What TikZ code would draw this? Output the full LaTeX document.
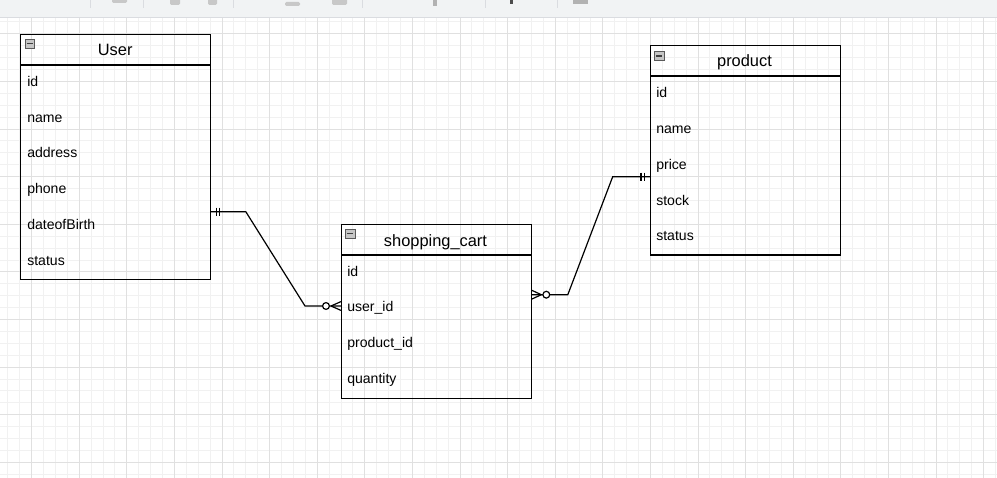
\documentclass[tikz,border=0pt]{standalone}
\usepackage{fontspec}
\setmainfont{Liberation Sans}
\usepackage{tikz}
\usetikzlibrary{calc}
\definecolor{gridminor}{RGB}{241,241,241}
\definecolor{gridmajor}{RGB}{224,224,224}
\definecolor{barfill}{RGB}{241,243,244}
\definecolor{barline}{RGB}{218,220,224}
\definecolor{iconfill}{RGB}{200,200,200}

\begin{document}
\begin{tikzpicture}[x=0.75pt, y=-0.75pt,
  table/.style={draw, line width=0.9pt, anchor=north west, minimum width=142.2pt, inner sep=0pt},
  title/.style={anchor=base, inner sep=0pt, font=\fontsize{12.3}{15}\selectfont},
  field/.style={anchor=base west, inner sep=0pt, font=\fontsize{10.55}{13}\selectfont},
  collapse/.style={draw=gray!70!black, fill=gray!45, minimum size=6.9pt, inner sep=0pt, line width=0.5pt},
  rel/.style={line width=0.9pt},
  minorgrid/.style={draw=gridminor, line width=0.6pt},
  majorgrid/.style={draw=gridmajor, line width=0.6pt},
  tool/.style={fill=iconfill, rounded corners=1pt}
]
\useasboundingbox (0,0) rectangle (997,478);
\fill[white] (0,0) rectangle (997,478);

% grid
\begin{scope}
\clip (0,17) rectangle (997,478);
\foreach \k in {-2,...,81} \draw[minorgrid] (31.5+11.9*\k,17) -- (31.5+11.9*\k,478);
\foreach \k in {-2,...,38} \draw[minorgrid] (0,33.8+11.9*\k) -- (997,33.8+11.9*\k);
\foreach \k in {-4,0,...,80} \draw[majorgrid] (31.5+11.9*\k,17) -- (31.5+11.9*\k,478);
\foreach \k in {-4,0,...,36} \draw[majorgrid] (0,33.8+11.9*\k) -- (997,33.8+11.9*\k);
\end{scope}

% toolbar
\fill[barfill] (0,0) rectangle (997,17);
\draw[barline, line width=0.6pt] (0,17) -- (997,17);
\foreach \sx in {90,143,233,362,485,557} \draw[barline, line width=0.6pt] (\sx,0) -- (\sx,8);
\fill[tool] (112,-2) rectangle (127,3);
\fill[tool] (170,-2) rectangle (180,5);
\fill[tool] (208,-2) rectangle (217,5);
\fill[tool] (285,2) rectangle (300,6);
\fill[tool] (332,-2) rectangle (347,5);
\fill[gray!60] (433,0) rectangle (437,6);
\fill[gray!60!black] (510,0) rectangle (513,4);
\fill[gray!60] (573,0) rectangle (588,4);

% tables
\node[table, minimum height=183.75pt] (user) at (20,34) {};
\draw[line width=0.9pt] (user.west |- 0,65) -- (user.east |- 0,65);
\node[collapse] (user-c) at (29.8,43.5) {};
\draw[line width=1pt, black!75] ($(user-c.west)+(2,0)$) -- ($(user-c.east)+(-2,0)$);
\node[title] (user-t) at (115.2,56) {User};
\node[field] (user-id) at (27,86.5) {id};
\node[field] (user-name) at (27,122.2) {name};
\node[field] (user-addr) at (27,157.9) {address};
\node[field] (user-phone) at (27,193.6) {phone};
\node[field] (user-dob) at (27,229.3) {dateofBirth};
\node[field] (user-status) at (27,265) {status};

\node[table, minimum height=157pt] (product) at (650,45) {};
\draw[line width=0.9pt] (product.west |- 0,76) -- (product.east |- 0,76);
\node[collapse] (product-c) at (659.3,56) {};
\draw[line width=1pt, black!75] ($(product-c.west)+(2,0)$) -- ($(product-c.east)+(-2,0)$);
\node[title] (product-t) at (744.5,67) {product};
\node[field] (product-id) at (656,97.9) {id};
\node[field] (product-name) at (656,133.6) {name};
\node[field] (product-price) at (656,169.3) {price};
\node[field] (product-stock) at (656,205) {stock};
\node[field] (product-status) at (656,240.7) {status};

\node[table, minimum height=130.3pt] (cart) at (341,224) {};
\draw[line width=0.9pt] (cart.west |- 0,255) -- (cart.east |- 0,255);
\node[collapse] (cart-c) at (350.3,233.8) {};
\draw[line width=1pt, black!75] ($(cart-c.west)+(2,0)$) -- ($(cart-c.east)+(-2,0)$);
\node[title] (cart-t) at (435.5,246) {shopping\_cart};
\node[field] (cart-id) at (347,276) {id};
\node[field] (cart-user) at (347,311.7) {user\_id};
\node[field] (cart-product) at (347,347.4) {product\_id};
\node[field] (cart-qty) at (347,383.1) {quantity};

% relations
\coordinate (ulink) at (user.east |- 0,211.7);
\coordinate (clink) at (cart.west |- 0,306);
\coordinate (crlink) at (cart.east |- 0,294.7);
\coordinate (plink) at (product.west |- 0,176.7);

\draw[rel] (ulink) -- ++(35,0) -- ($(clink)+(-36,0)$) -- (clink);
\draw[rel] ($(ulink)+(5.5,-4)$) -- ++(0,8) ($(ulink)+(9,-4)$) -- ++(0,8);
\draw[rel] ($(clink)+(-10,0)$) -- ($(clink)+(0,-4.4)$) ($(clink)+(-10,0)$) -- ($(clink)+(0,4.4)$);
\draw[rel, fill=white] ($(clink)+(-15,0)$) circle[radius=2.55pt];

\draw[rel] (crlink) -- ++(36,0) -- ($(plink)+(-37.3,0)$) -- (plink);
\draw[rel] ($(plink)+(-9,-4)$) -- ++(0,8) ($(plink)+(-5.7,-4)$) -- ++(0,8);
\draw[rel] ($(crlink)+(9.5,0)$) -- ($(crlink)+(0,-4.4)$) ($(crlink)+(9.5,0)$) -- ($(crlink)+(0,4.4)$);
\draw[rel, fill=white] ($(crlink)+(14.5,0)$) circle[radius=2.55pt];
\end{tikzpicture}
\end{document}
